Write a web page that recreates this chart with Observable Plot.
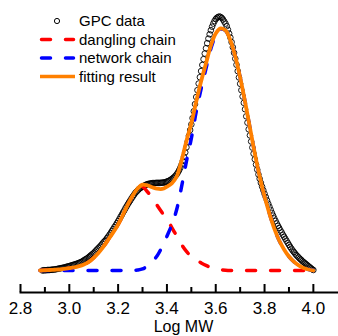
<!DOCTYPE html>
<html><head><meta charset="utf-8">
<script src="https://cdn.jsdelivr.net/npm/d3@7"></script>
<script src="https://cdn.jsdelivr.net/npm/@observablehq/plot@0.6"></script>
<style>
body{margin:0;background:#fff;}
#wrap{position:relative;width:338px;height:336px;font-family:"Liberation Sans",Arial,sans-serif;}
</style></head><body><div id="wrap"></div>
<script>
// GPC data sampled every 0.005 in Log MW starting at 2.89
const gpcStart = 2.89, gpcStep = 0.005;
const gpcValues = [
0.000,0.001,0.001,0.001,0.002,0.002,0.002,0.003,0.003,0.004,
0.004,0.005,0.006,0.007,0.008,0.009,0.010,0.011,0.012,0.013,
0.015,0.016,0.017,0.019,0.020,0.022,0.023,0.025,0.026,0.028,
0.030,0.032,0.034,0.037,0.040,0.043,0.046,0.049,0.053,0.057,
0.061,0.065,0.069,0.074,0.079,0.084,0.089,0.094,0.099,0.105,
0.111,0.116,0.121,0.128,0.134,0.141,0.148,0.156,0.163,0.171,
0.178,0.186,0.194,0.202,0.211,0.219,0.228,0.236,0.245,0.253,
0.261,0.269,0.276,0.284,0.291,0.298,0.305,0.310,0.315,0.320,
0.324,0.327,0.330,0.333,0.335,0.338,0.340,0.341,0.342,0.343,
0.344,0.344,0.344,0.345,0.345,0.345,0.345,0.345,0.346,0.346,
0.347,0.348,
0.350,0.352,0.354,0.357,0.360,0.364,0.368,0.373,0.379,0.386,
0.395,0.405,0.417,0.431,0.447,0.465,0.485,0.507,0.530,0.553,
0.575,0.600,0.627,0.655,0.683,0.710,0.736,0.761,0.785,0.809,
0.832,0.854,0.875,0.895,0.913,0.930,0.946,0.960,0.972,0.982,
0.990,0.995,0.998,1.000,0.998,0.994,0.988,0.980,0.972,0.962,
0.948,0.933,0.917,0.899,0.879,0.857,0.834,0.810,0.785,0.760,
0.735,0.710,0.685,0.660,0.635,0.607,0.582,0.556,0.532,0.508,
0.484,0.460,0.438,0.417,0.397,0.378,0.361,0.345,0.330,0.316,
0.302,0.289,0.276,0.263,0.251,0.239,0.227,0.216,0.205,0.195,
0.185,0.176,0.167,0.158,0.150,0.141,0.133,0.125,0.117,0.109,
0.101,0.093,0.086,0.079,0.073,0.067,0.061,0.056,0.051,0.046,
0.042,0.037,0.033,0.029,0.025,0.021,0.017,0.013,0.009,0.005,
0.002];

const curveX = [2.88,2.90,2.92,2.94,2.96,2.98,3.00,3.02,3.04,3.06,3.08,3.10,3.12,3.14,3.16,3.18,3.20,3.22,3.24,3.26,3.28,3.30,3.32,3.34,3.36,3.38,3.40,3.42,3.44,3.46,3.48,3.50,3.52,3.54,3.56,3.58,3.60,3.62,3.64,3.66,3.68,3.70,3.72,3.74,3.76,3.78,3.80,3.82,3.84,3.86,3.88,3.90,3.92,3.94,3.96,3.98,4.00];
const fittingResult = [0.000,0.001,0.002,0.003,0.004,0.006,0.009,0.012,0.017,0.024,0.034,0.050,0.070,0.094,0.122,0.150,0.181,0.220,0.260,0.295,0.323,0.338,0.335,0.328,0.322,0.321,0.330,0.343,0.370,0.433,0.510,0.580,0.665,0.745,0.815,0.885,0.933,0.953,0.945,0.906,0.843,0.760,0.665,0.563,0.461,0.370,0.291,0.224,0.165,0.118,0.083,0.055,0.035,0.020,0.010,0.004,0.000];
const danglingChain = [0.000,0.001,0.002,0.003,0.004,0.006,0.009,0.012,0.017,0.024,0.034,0.050,0.070,0.094,0.122,0.150,0.181,0.220,0.260,0.294,0.320,0.330,0.310,0.287,0.256,0.228,0.203,0.169,0.136,0.102,0.075,0.055,0.041,0.030,0.020,0.012,0.007,0.003,0.001,0,0,0,0,0,0,0,0,0,0,0,0,0,0,0,0,0,0];
const networkChain = [0,0,0,0,0,0,0,0,0,0,0,0,0,0,0,0,0,0,0,0.001,0.002,0.006,0.018,0.035,0.058,0.093,0.135,0.180,0.240,0.330,0.430,0.520,0.625,0.715,0.795,0.873,0.926,0.950,0.944,0.906,0.843,0.760,0.665,0.563,0.461,0.370,0.291,0.224,0.165,0.118,0.083,0.055,0.035,0.020,0.010,0.004,0.000];

const majorTicks = [2.8,3.0,3.2,3.4,3.6,3.8,4.0];
const minorTicks = [2.9,3.1,3.3,3.5,3.7,3.9];
const xLabel = "Log MW";
const legendLabels = ["GPC data","dangling chain","network chain","fitting result"];
const legendColors = ["#000000","#ff0000","#0000ff","#ff8000"];

const gpc = gpcValues.map((v,i)=>({x: gpcStart + i*gpcStep, y: v}));
const curves = curveX.map((x,i)=>({x, d: danglingChain[i], n: networkChain[i], f: fittingResult[i]}));

const chart = Plot.plot({
  width: 338, height: 336,
  marginTop: 16, marginBottom: 44, marginLeft: 20, marginRight: 0,
  insetBottom: 22,
  x: {domain: [2.8, 4.103]},
  y: {domain: [0, 1], axis: null},
  style: {fontFamily: "'Liberation Sans', Arial, sans-serif", fontSize: "17px", color: "#000", background: "#fff"},
  marks: [
    Plot.frame({anchor: "bottom", strokeWidth: 2, stroke: "#000"}),
    Plot.tickX(majorTicks, {x: d=>d, insetTop: 268, strokeWidth: 2, stroke: "#000"}),
    Plot.tickX(minorTicks, {x: d=>d, insetTop: 271, strokeWidth: 2, stroke: "#000"}),
    Plot.axisX(majorTicks, {tickSize: 0, tickPadding: 9, tickFormat: d=>d.toFixed(1), label: null, fill: "#000"}),
    Plot.text([xLabel], {frameAnchor: "bottom", dy: 34.4, dx: 4, text: d=>d, lineAnchor: "middle", fontSize: 16, fill: "#000"}),
    Plot.dot(gpc, {x: "x", y: "y", r: 2.8, stroke: "#000", strokeWidth: 0.9, fill: "none"}),
    Plot.line(curves, {x: "x", y: "d", stroke: legendColors[1], strokeWidth: 3.5, strokeDasharray: "9,15", strokeLinecap: "round", curve: "catmull-rom"}),
    Plot.line(curves, {x: "x", y: "n", stroke: legendColors[2], strokeWidth: 3.5, strokeDasharray: "9,15", strokeLinecap: "round", curve: "catmull-rom"}),
    Plot.line(curves, {x: "x", y: "f", stroke: legendColors[3], strokeWidth: 3.8, curve: "catmull-rom"})
  ]
});
const wrap = document.getElementById("wrap");
wrap.appendChild(chart);

// legend overlay
const lg = d3.select(wrap).append("svg")
  .attr("width", 200).attr("height", 90)
  .style("position", "absolute").style("left", "0px").style("top", "0px")
  .style("font-family", "'Liberation Sans', Arial, sans-serif").style("font-size", "15px");
const rowsY = [21, 39.5, 58, 76.5];
legendLabels.forEach((lab, i) => {
  const y = rowsY[i];
  if (i === 0) {
    lg.append("circle").attr("cx", 57).attr("cy", y).attr("r", 2.6).attr("fill", "none").attr("stroke", "#000").attr("stroke-width", 1);
  } else {
    const ln = lg.append("line").attr("x1", 40).attr("x2", 75).attr("y1", y).attr("y2", y)
      .attr("stroke", legendColors[i]).attr("stroke-width", 3.5);
    if (i < 3) ln.attr("stroke-dasharray", "9,15").attr("stroke-linecap", "round").attr("x1", 41.5).attr("x2", 73.5);
  }
  lg.append("text").attr("x", 79).attr("y", y).attr("dy", "0.35em").attr("fill", "#000").text(lab);
});
</script></body></html>
